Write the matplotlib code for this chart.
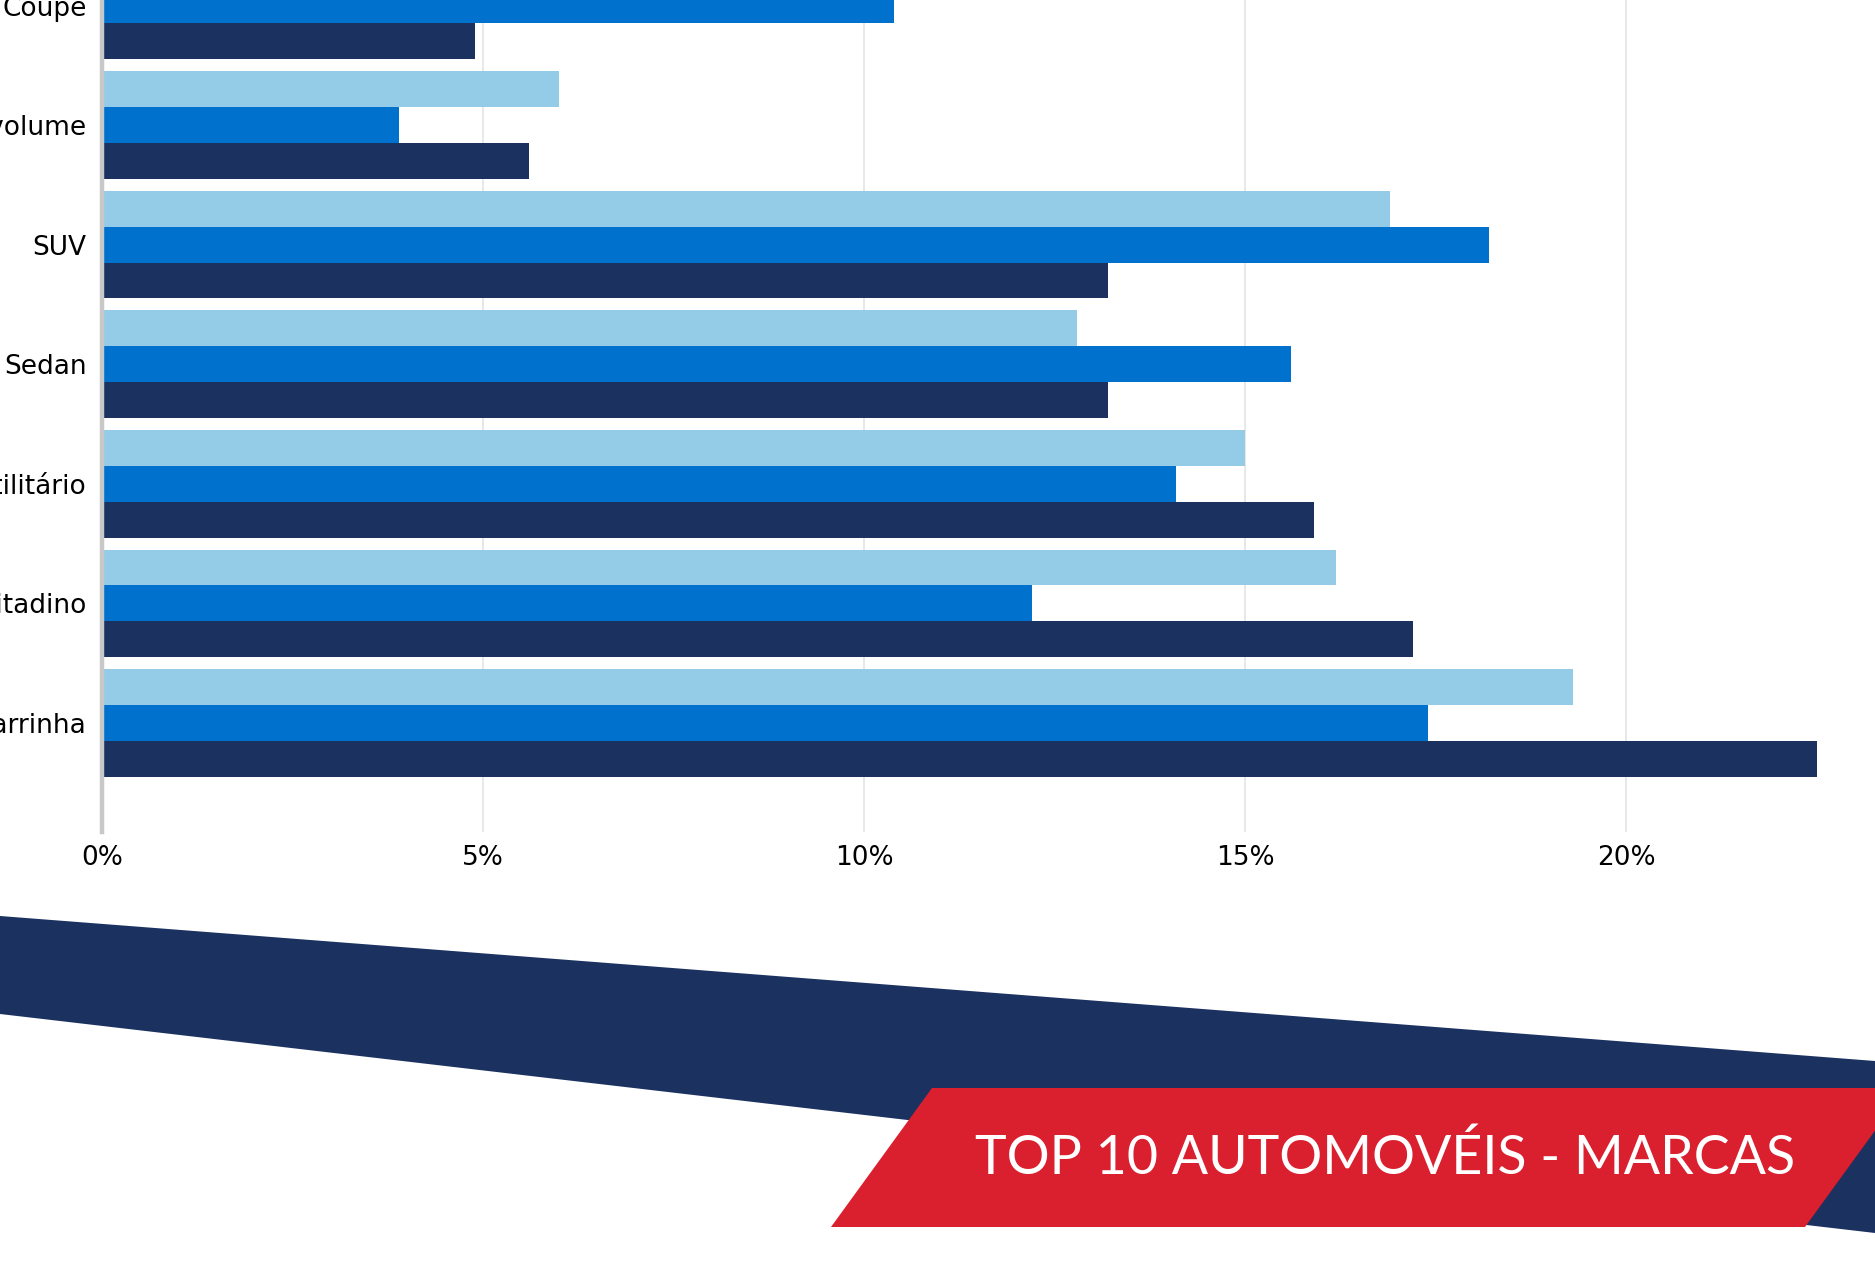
import matplotlib
matplotlib.use("Agg")
import matplotlib.pyplot as plt
import numpy as np
from matplotlib.patches import Polygon
from matplotlib.ticker import PercentFormatter

# segment shares (%), bottom to top
categories = ["Carrinha", "Citadino", "Utilitário", "Sedan", "SUV", "Monovolume", "Coupé"]
serie_clara = [19.3, 16.2, 15.0, 12.8, 16.9, 6.0, 9.0]
serie_media = [17.4, 12.2, 14.1, 15.6, 18.2, 3.9, 10.4]
serie_escura = [22.5, 17.2, 15.9, 13.2, 13.2, 5.6, 4.9]
x_ticks = [0, 5, 10, 15, 20]
titulo = "TOP 10 AUTOMOVÉIS - MARCAS"

c_clara = "#94CCE7"
c_media = "#0072CE"
c_escura = "#1B3160"
c_vermelho = "#DA1F2E"

W, H = 1875, 1272
fig = plt.figure(figsize=(W / 100, H / 100), dpi=100)
fig.patch.set_facecolor("white")

# decorative background in pixel coords
bg = fig.add_axes([0, 0, 1, 1], zorder=0)
bg.set_xlim(0, W)
bg.set_ylim(H, 0)
bg.axis("off")
bg.add_patch(Polygon([(0, 916), (W, 1061), (W, 1233), (0, 1014)], closed=True,
                     facecolor=c_escura, edgecolor="none"))
bg.add_patch(Polygon([(831, 1227), (932, 1088), (1906, 1088), (1805, 1227)], closed=True,
                     facecolor=c_vermelho, edgecolor="none"))
bg.text(975, 1174, titulo, color="white", fontsize=38.7, family="Lato",
        ha="left", va="baseline")

# bar chart
unit = 119.6
y_top = 6.5
ax_top_px = 723 - y_top * unit
ax = fig.add_axes([102 / W, 1 - 832 / H, 23.2 * 76.2 / W, (832 - ax_top_px) / H], zorder=1)
ax.set_facecolor("none")
y = np.arange(len(categories))
h = 0.3
ax.barh(y + h, serie_clara, height=h, color=c_clara, zorder=3)
ax.barh(y, serie_media, height=h, color=c_media, zorder=3)
ax.barh(y - h, serie_escura, height=h, color=c_escura, zorder=3)

ax.set_xlim(0, 23.2)
ax.set_ylim(-(832 - 723) / unit, y_top)
ax.set_yticks(y)
ax.set_yticklabels(categories)
ax.set_xticks(x_ticks)
ax.xaxis.set_major_formatter(PercentFormatter(decimals=0))
ax.tick_params(axis="both", length=0, labelsize=19, colors="black")
ax.tick_params(axis="y", pad=11)
ax.tick_params(axis="x", pad=9.5)
ax.grid(axis="x", color="#E6E6E6", linewidth=1.3, zorder=0)
ax.set_axisbelow(True)
for s in ["top", "right", "bottom"]:
    ax.spines[s].set_visible(False)
ax.spines["left"].set_color("#C8C8C8")
ax.spines["left"].set_linewidth(3.2)
ax.spines["left"].set_zorder(4)

fig.savefig("out.png", dpi=100, facecolor="white")
